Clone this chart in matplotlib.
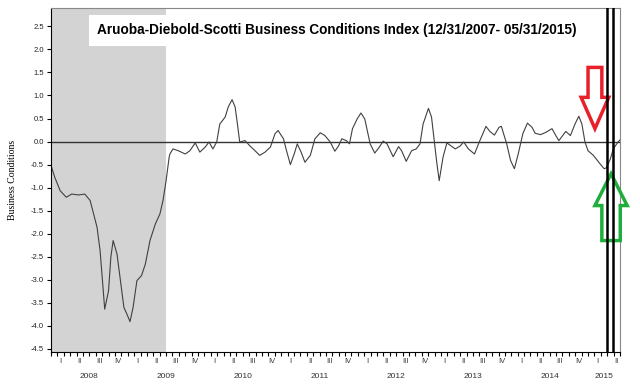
import matplotlib
matplotlib.use("Agg")
import matplotlib.pyplot as plt
from matplotlib.patches import Polygon
import matplotlib.transforms as mtransforms

# ADS index (decimal year, index value)
t = [2008.00, 2008.05, 2008.12, 2008.20, 2008.27, 2008.36, 2008.44, 2008.51, 2008.60, 2008.64,
     2008.67, 2008.70, 2008.75, 2008.78, 2008.81, 2008.86, 2008.90, 2008.95, 2008.99, 2009.03,
     2009.07, 2009.12, 2009.18, 2009.23, 2009.29, 2009.36, 2009.42, 2009.46, 2009.50, 2009.54,
     2009.55, 2009.59, 2009.66, 2009.75, 2009.81, 2009.88, 2009.94, 2010.01, 2010.06, 2010.11,
     2010.16, 2010.20, 2010.27, 2010.31, 2010.36, 2010.40, 2010.43, 2010.46, 2010.53, 2010.59,
     2010.66, 2010.72, 2010.79, 2010.86, 2010.92, 2010.96, 2011.03, 2011.07, 2011.12, 2011.17,
     2011.21, 2011.26, 2011.31, 2011.38, 2011.44, 2011.51, 2011.57, 2011.64, 2011.70, 2011.75,
     2011.79, 2011.85, 2011.89, 2011.93, 2011.99, 2012.04, 2012.09, 2012.16, 2012.22, 2012.28,
     2012.33, 2012.38, 2012.46, 2012.53, 2012.57, 2012.63, 2012.70, 2012.76, 2012.81, 2012.85,
     2012.92, 2012.96, 2013.00, 2013.03, 2013.06, 2013.11, 2013.16, 2013.21, 2013.27, 2013.33,
     2013.38, 2013.44, 2013.52, 2013.59, 2013.67, 2013.72, 2013.78, 2013.84, 2013.87, 2013.94,
     2013.99, 2014.04, 2014.09, 2014.15, 2014.21, 2014.27, 2014.31, 2014.38, 2014.45, 2014.53,
     2014.58, 2014.62, 2014.67, 2014.71, 2014.77, 2014.83, 2014.88, 2014.92, 2014.96, 2015.00,
     2015.07, 2015.14, 2015.21, 2015.24, 2015.29, 2015.33, 2015.39, 2015.42]
ads = [-0.52, -0.78, -1.07, -1.21, -1.14, -1.16, -1.14, -1.28, -1.86, -2.37,
       -3.02, -3.64, -3.24, -2.51, -2.15, -2.44, -2.95, -3.60, -3.75, -3.91,
       -3.60, -3.02, -2.91, -2.66, -2.15, -1.79, -1.57, -1.28, -0.85, -0.34,
       -0.27, -0.16, -0.20, -0.27, -0.20, -0.03, -0.23, -0.12, -0.01, -0.16,
       -0.01, 0.38, 0.53, 0.75, 0.91, 0.75, 0.38, -0.01, 0.02, -0.09,
       -0.20, -0.30, -0.23, -0.12, 0.17, 0.24, 0.06, -0.20, -0.50, -0.27,
       -0.05, -0.23, -0.45, -0.30, 0.06, 0.19, 0.13, -0.01, -0.21, -0.09,
       0.06, 0.02, -0.05, 0.28, 0.49, 0.62, 0.49, -0.05, -0.25, -0.12,
       0.01, -0.05, -0.33, -0.11, -0.20, -0.43, -0.20, -0.16, -0.05, 0.38,
       0.72, 0.53, -0.05, -0.48, -0.85, -0.34, -0.03, -0.09, -0.16, -0.10,
       -0.01, -0.16, -0.27, 0.02, 0.33, 0.22, 0.14, 0.31, 0.33, -0.05,
       -0.41, -0.59, -0.27, 0.17, 0.40, 0.31, 0.18, 0.15, 0.20, 0.28,
       0.13, 0.02, 0.13, 0.22, 0.13, 0.38, 0.55, 0.38, -0.01, -0.20,
       -0.30, -0.45, -0.59, -0.57, -0.38, -0.16, -0.01, 0.04]

recession = (2008.0, 2009.5)
markers = [2015.25, 2015.33]
quarter_names = ["I", "II", "III", "IV"]
years = [2008, 2009, 2010, 2011, 2012, 2013, 2014, 2015]
x_start, x_end = 2008.0, 2015.414

title = "Aruoba-Diebold-Scotti Business Conditions Index (12/31/2007- 05/31/2015)"

fig = plt.figure(figsize=(6.4, 3.91), dpi=100)
ax = fig.add_axes([51 / 640, 39 / 391, 569 / 640, 344 / 391])

# recession shading, zero line, series
ax.axvspan(*recession, color="#d3d3d3", lw=0, zorder=0)
ax.axhline(0, color="#333333", lw=1.0, zorder=1)
ax.plot(t, ads, color="#404040", lw=0.8, zorder=2)
for m in markers:
    ax.axvline(m, color="black", lw=1.8, zorder=7)

ax.set_xlim(x_start, x_end)
ax.set_ylim(-4.57, 2.9)

# y axis
yt = [-4.5 + 0.5 * i for i in range(15)]
ax.set_yticks(yt)
ax.set_yticklabels(["%.1f" % v for v in yt], fontsize=5.5, family="Liberation Sans",
                   color="#222222")
ax.tick_params(axis="y", length=3, width=0.8, pad=2, direction="out")
ax.set_ylabel("Business Conditions", family="Liberation Serif", fontsize=7, labelpad=10)

# x axis: monthly ticks, quarter and year labels as text
months = [2008 + i / 12 for i in range(0, 90)]
ax.set_xticks(months)
ax.set_xticklabels([])
ax.tick_params(axis="x", length=3, width=0.8, direction="out")
trans = mtransforms.blended_transform_factory(ax.transData, ax.transAxes)
for y in years:
    for q in range(4):
        mid = y + q * 0.25 + 0.125
        if mid > x_end:
            break
        ax.text(mid, -0.028, quarter_names[q], transform=trans, ha="center", va="center",
                fontsize=5.5, family="Liberation Sans", color="#333333")
    center = (y + min(y + 1, x_end)) / 2
    ax.text(center, -0.07, str(y), transform=trans, ha="center", va="center",
            fontsize=6, family="Liberation Sans", color="#333333")

for side in ["top", "right"]:
    ax.spines[side].set_color("#888888")
ax.spines["left"].set_color("black")
ax.spines["bottom"].set_color("black")

# title box
ax.text(0.502, 0.935, title, transform=ax.transAxes, ha="center", va="center",
        fontsize=9.8, fontweight="bold", family="Liberation Sans",
        bbox=dict(boxstyle="square,pad=0.6", facecolor="white", edgecolor="none"), zorder=5)

# red down arrow
red = [(2015.00, 1.61), (2015.18, 1.61), (2015.18, 0.96), (2015.27, 0.96),
       (2015.09, 0.28), (2014.91, 0.96), (2015.00, 0.96)]
ax.add_patch(Polygon(red, closed=True, facecolor="white", edgecolor="#e8202a", lw=2.5,
                     zorder=6, clip_on=False))
# green up arrow
green = [(2015.18, -2.15), (2015.42, -2.15), (2015.42, -1.39), (2015.51, -1.39),
         (2015.30, -0.70), (2015.09, -1.39), (2015.18, -1.39)]
ax.add_patch(Polygon(green, closed=True, facecolor="none", edgecolor="#1fae3c", lw=2.5,
                     zorder=6, clip_on=False))

fig.savefig("out.png", dpi=100)
